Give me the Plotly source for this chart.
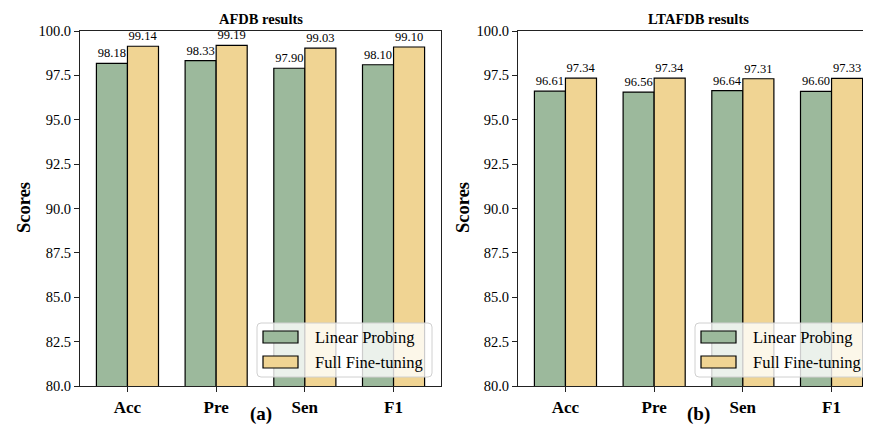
import plotly.graph_objects as go

metrics = ["Acc", "Pre", "Sen", "F1"]
afdb_linear = [98.18, 98.33, 97.90, 98.10]
afdb_full = [99.14, 99.19, 99.03, 99.10]
ltafdb_linear = [96.61, 96.56, 96.64, 96.60]
ltafdb_full = [97.34, 97.34, 97.31, 97.33]
series_names = ["Linear Probing", "Full Fine-tuning"]
panel_titles = ["AFDB results", "LTAFDB results"]
panel_labels = ["(a)", "(b)"]
y_ticks = [80.0, 82.5, 85.0, 87.5, 90.0, 92.5, 95.0, 97.5, 100.0]

GREEN = "#9CB99C"
YELLOW = "#F0D493"
FONT = "Liberation Serif"

# page body has an 8px margin; work in window pixels and shift
OFF = 8
WIN_W, WIN_H = 871, 432
W, H = WIN_W - OFF, WIN_H - OFF
ML, MT = 80 - OFF, 31 - OFF
MR = 0
MB = WIN_H - 386
PW, PH = W - ML - MR, H - MT - MB


def px(x):
    return (x - 80) / PW


def py(y):
    return (386 - y) / PH


fig = go.Figure()
xs = list(range(len(metrics)))
panels = [(afdb_linear, afdb_full), (ltafdb_linear, ltafdb_full)]
for i, (lin, full) in enumerate(panels):
    xa = "x" if i == 0 else "x2"
    ya = "y" if i == 0 else "y2"
    for vals, name, col in [(lin, series_names[0], GREEN), (full, series_names[1], YELLOW)]:
        fig.add_trace(go.Bar(
            x=xs, y=vals, name=name, xaxis=xa, yaxis=ya,
            marker=dict(color=col, line=dict(color="black", width=1.2)),
            texttemplate="%{y:.2f}", textposition="outside",
            textfont=dict(family=FONT, size=12.5, color="black"),
            cliponaxis=False, showlegend=False,
        ))

unit = 361 / 4.07
x_left = -0.535
axis_common = dict(
    tickvals=xs, ticktext=["<b>%s</b>" % m for m in metrics],
    tickfont=dict(family=FONT, size=17, color="black"),
    ticks="outside", ticklen=5, tickwidth=1.2, tickcolor="#222",
    showline=True, linecolor="#222", linewidth=1.2, mirror=True,
    showgrid=False, zeroline=False,
)
yaxis_common = dict(
    range=[80, 100], tickvals=y_ticks, tickformat=".1f",
    tickfont=dict(family=FONT, size=14.5, color="black"),
    ticks="outside", ticklen=5, tickwidth=1.2, tickcolor="#222",
    showline=True, linecolor="#222", linewidth=1.2,
    showgrid=False, zeroline=False,
)

fig.update_layout(
    width=W, height=H,
    margin=dict(l=ML, r=MR, t=MT, b=MB, autoexpand=False),
    plot_bgcolor="white", paper_bgcolor="white",
    barmode="group", bargap=0.3, bargroupgap=0,
    xaxis=dict(domain=[0, px(441)], range=[x_left, x_left + 361 / unit], anchor="y", **axis_common),
    xaxis2=dict(domain=[px(518), 1], range=[x_left, x_left + (871 - 518) / unit], anchor="y2", **axis_common),
    yaxis=dict(domain=[0, 1], anchor="x", mirror=True, **yaxis_common),
    yaxis2=dict(domain=[0, 1], anchor="x2", mirror=False, **yaxis_common),
    font=dict(family=FONT, color="black"),
)

annotations = []
shapes = []
centers = [(80 + 441) / 2, (518 + 879) / 2]
score_x = [24, 463]
legend_boxes = [(257, 432), (695, 867)]
for i in range(2):
    annotations.append(dict(text="<b>%s</b>" % panel_titles[i], x=px(centers[i]), y=py(19),
                            xref="paper", yref="paper", showarrow=False,
                            xanchor="center", yanchor="middle",
                            font=dict(family=FONT, size=14.5, color="black")))
    annotations.append(dict(text="<b>%s</b>" % panel_labels[i], x=px(centers[i]), y=py(414),
                            xref="paper", yref="paper", showarrow=False,
                            xanchor="center", yanchor="middle",
                            font=dict(family=FONT, size=19, color="black")))
    annotations.append(dict(text="<b>Scores</b>", x=px(score_x[i]), y=py(208),
                            xref="paper", yref="paper", showarrow=False, textangle=-90,
                            xanchor="center", yanchor="middle",
                            font=dict(family=FONT, size=18.5, color="black")))
    # legend
    x0, x1 = legend_boxes[i]
    y0, y1 = 323, 377
    r = 4
    path = ("M {a},{b} L {c},{b} Q {x1},{b} {x1},{d} L {x1},{e} Q {x1},{y1p} {c},{y1p} "
            "L {a},{y1p} Q {x0},{y1p} {x0},{e} L {x0},{d} Q {x0},{b} {a},{b} Z").format(
        a=px(x0 + r), c=px(x1 - r), b=py(y0), d=py(y0 + r), e=py(y1 - r),
        x0=px(x0), x1=px(x1), y1p=py(y1))
    shapes.append(dict(type="path", path=path, xref="paper", yref="paper",
                       fillcolor="rgba(255,255,255,0.8)", line=dict(color="#d0d0d0", width=1),
                       layer="above"))
    for j, (name, col) in enumerate([(series_names[0], GREEN), (series_names[1], YELLOW)]):
        cy = 337 + 25 * j
        sx0 = x0 + 6
        shapes.append(dict(type="rect", xref="paper", yref="paper",
                           x0=px(sx0), x1=px(sx0 + 35), y0=py(cy - 6), y1=py(cy + 6),
                           fillcolor=col, line=dict(color="black", width=1.2), layer="above"))
        annotations.append(dict(text=name, x=px(sx0 + 50), y=py(cy), xref="paper", yref="paper",
                                xanchor="left", yanchor="middle", showarrow=False,
                                font=dict(family=FONT, size=16.5, color="black")))

fig.update_layout(annotations=annotations, shapes=shapes)
fig.write_html("out.html")
